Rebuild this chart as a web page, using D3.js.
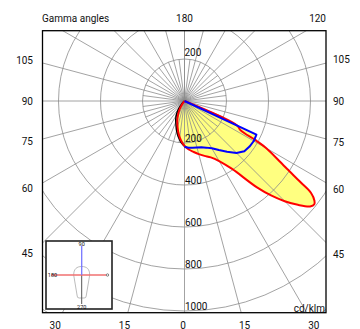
<!DOCTYPE html>
<html><head><meta charset="utf-8">
<script src="https://cdn.jsdelivr.net/npm/d3@7"></script>
<style>
body{margin:0;background:#fff}
svg{display:block}
text{font-family:Roboto,"Liberation Sans",sans-serif;fill:#111}
</style>
</head><body>
<svg id="chart" width="360" height="329"></svg>
<script>
// ---- data ----
const ringValues = [200, 400, 600, 800, 1000, 1200];
const ringLabelsBelow = [200, 400, 600, 800, 1000];
const ringLabelsAbove = [200];
const majorRayAngles = d3.range(-180, 181, 15);
const minorRayAngles = d3.range(-180, 181, 7.5).filter(a => a % 15 !== 0);
const leftGammaLabels = [105, 90, 75, 60, 45];
const rightGammaLabels = [105, 90, 75, 60, 45];
const bottomGammaLabels = [-30, -15, 0, 15, 30];

// red curve (C0-C180), signed gamma angle (negative = left half), cd/klm
const redAngles = [-40, -35, -30, -25, -20, -15, -10, -5, 0, 5, 10, 15, 20, 25, 30, 35, 40, 42.5, 45, 47.5, 50, 51.5, 52.5, 54, 55, 56.5, 57.5, 60, 61, 62.5, 65, 67.5];
const redValues = [0, 23, 48, 74, 100, 128, 160, 189, 214, 232, 246, 262, 278, 296, 330, 395, 537, 610, 675, 732, 781, 790, 780, 745, 675, 585, 541, 450, 395, 300, 278, 0];
// blue curve
const blueAngles = [0, 5, 10, 15, 20, 25, 30, 35, 40, 45, 50, 55, 60, 65, 70];
const blueValues = [218, 223, 226, 229, 234, 245, 260, 285, 315, 350, 372, 378, 381, 378, 0];
// black curve
const blackAngles = [-50, -45, -40, -35, -30, -25, -20, -15, -10, -5, 0, 2.5];
const blackValues = [0, 15, 32, 55, 78, 98, 118, 145, 172, 196, 215, 222];

// ---- layout ----
const svg = d3.select("#chart");
const cx = 184.5, cy = 101;
const box = {x0: 42.5, y0: 30.7, x1: 326, y1: 312.7};
const r = d3.scaleLinear().domain([0, 1000]).range([0, 210]);
const rad = a => a * Math.PI / 180;

svg.append("defs").append("clipPath").attr("id", "clip")
  .append("rect").attr("x", box.x0).attr("y", box.y0)
  .attr("width", box.x1 - box.x0).attr("height", box.y1 - box.y0);

const plot = svg.append("g").attr("clip-path", "url(#clip)");
const polar = plot.append("g").attr("transform", `translate(${cx},${cy})`);

const line = d3.lineRadial()
  .angle(d => Math.PI - rad(d[0]))
  .radius(d => r(d[1]))
  .curve(d3.curveCatmullRom.alpha(0.5));
const lineLin = d3.lineRadial()
  .angle(d => Math.PI - rad(d[0]))
  .radius(d => r(d[1]));

const red = d3.zip(redAngles, redValues);
const blue = d3.zip(blueAngles, blueValues);
const black = d3.zip(blackAngles, blackValues);

// fills
polar.append("path").attr("d", line(red) + "Z").attr("fill", "#ffff80");
polar.append("path").attr("d", lineLin([[0, 0]].concat(blue)) + "Z").attr("fill", "#ffff80");

// grid
const grid = polar.append("g").attr("fill", "none").attr("stroke", "#8c8c8c").attr("stroke-width", 0.8);
grid.selectAll("circle").data(ringValues).join("circle").attr("r", d => r(d));
grid.selectAll("line.major").data(majorRayAngles).join("line").attr("class", "major")
  .attr("x1", 0).attr("y1", 0)
  .attr("x2", d => r(2000) * Math.sin(rad(d)))
  .attr("y2", d => r(2000) * Math.cos(rad(d)));
grid.selectAll("line.minor").data(minorRayAngles).join("line").attr("class", "minor")
  .attr("x1", 0).attr("y1", 0)
  .attr("x2", d => r(200) * Math.sin(rad(d)))
  .attr("y2", d => r(200) * Math.cos(rad(d)));

// curves
polar.append("path").attr("d", line(black)).attr("fill", "none").attr("stroke", "#000").attr("stroke-width", 1.6);
polar.append("path").attr("d", line(red)).attr("fill", "none").attr("stroke", "#ff0000").attr("stroke-width", 2).attr("stroke-linejoin", "round");
polar.append("path").attr("d", lineLin(blue)).attr("fill", "none").attr("stroke", "#0000ff").attr("stroke-width", 2).attr("stroke-linejoin", "round");

// ring labels
plot.selectAll("text.rb").data(ringLabelsBelow).join("text").attr("class", "rb")
  .attr("x", cx + 0.5).attr("y", d => cy + r(d) - 1.5)
  .attr("font-size", 10).text(d => d);
plot.selectAll("text.ra").data(ringLabelsAbove).join("text").attr("class", "ra")
  .attr("x", cx).attr("y", d => cy - r(d) - 3.3)
  .attr("font-size", 10).text(d => d);

// frame
svg.append("rect").attr("x", box.x0).attr("y", box.y0)
  .attr("width", box.x1 - box.x0).attr("height", box.y1 - box.y0)
  .attr("fill", "none").attr("stroke", "#000").attr("stroke-width", 1.3);

// gamma labels
const lab = svg.append("g").attr("font-size", 10);
lab.selectAll("text.l").data(leftGammaLabels).join("text").attr("class", "l")
  .attr("x", 33).attr("text-anchor", "end").attr("dominant-baseline", "central")
  .attr("y", d => cy + (cx - 32.5) * Math.cos(rad(d)) / Math.sin(rad(d)))
  .text(d => d);
lab.selectAll("text.r").data(rightGammaLabels).join("text").attr("class", "r")
  .attr("x", 333).attr("text-anchor", "start").attr("dominant-baseline", "central")
  .attr("y", d => cy + (338 - cx) * Math.cos(rad(d)) / Math.sin(rad(d)))
  .text(d => d);
lab.selectAll("text.b").data(bottomGammaLabels).join("text").attr("class", "b")
  .attr("x", d => cx + (325 - cy) * Math.tan(rad(d)) - (d === 0 ? 1.5 : 0))
  .attr("y", 325).attr("text-anchor", "middle").attr("dominant-baseline", "central")
  .text(d => Math.abs(d));
lab.append("text").attr("x", 42).attr("y", 18).attr("dominant-baseline", "central").text("Gamma angles");
lab.append("text").attr("x", cx).attr("y", 18).attr("text-anchor", "middle").attr("dominant-baseline", "central").text("180");
lab.append("text").attr("x", 326).attr("y", 18).attr("text-anchor", "end").attr("dominant-baseline", "central").text("120");
lab.append("text").attr("x", 325).attr("y", 308).attr("text-anchor", "end").attr("dominant-baseline", "central").text("cd/klm");

// inset
const inset = svg.append("g");
const ix = 81.7, iy = 275;
inset.append("rect").attr("x", 46).attr("y", 241).attr("width", 66).attr("height", 68)
  .attr("fill", "#fff").attr("stroke", "#222").attr("stroke-width", 1.6);
inset.append("path")
  .attr("d", `M${ix-8},${iy} C${ix-8},${iy-6} ${ix-5},${iy-8.5} ${ix},${iy-8.5} C${ix+5},${iy-8.5} ${ix+8},${iy-6} ${ix+8},${iy} L${ix+4.5},${iy+21} Q${ix+4.5},${iy+23} ${ix+2.5},${iy+23} L${ix-2.5},${iy+23} Q${ix-4.5},${iy+23} ${ix-4.5},${iy+21} Z`)
  .attr("fill", "none").attr("stroke", "#aaa").attr("stroke-width", 0.8);
inset.append("line").attr("x1", ix).attr("x2", ix).attr("y1", iy).attr("y2", iy + 29).attr("stroke", "#555").attr("stroke-width", 1);
inset.append("line").attr("x1", 51).attr("x2", 106).attr("y1", iy).attr("y2", iy).attr("stroke", "#f07070").attr("stroke-width", 1.3);
inset.append("line").attr("x1", ix).attr("x2", ix).attr("y1", 245.5).attr("y2", iy).attr("stroke", "#7777ff").attr("stroke-width", 1.3);
inset.append("circle").attr("cx", 107.5).attr("cy", iy).attr("r", 1.2).attr("fill", "#fff").attr("stroke", "#333").attr("stroke-width", 0.6);
const il = inset.append("g").attr("font-size", 5.5).attr("text-anchor", "middle").attr("dominant-baseline", "central");
il.append("text").attr("x", ix).attr("y", 243.5).text("90");
il.append("text").attr("x", 52.5).attr("y", iy).text("180");
il.append("text").attr("x", ix).attr("y", 306.5).text("270");
</script>
</body></html>
